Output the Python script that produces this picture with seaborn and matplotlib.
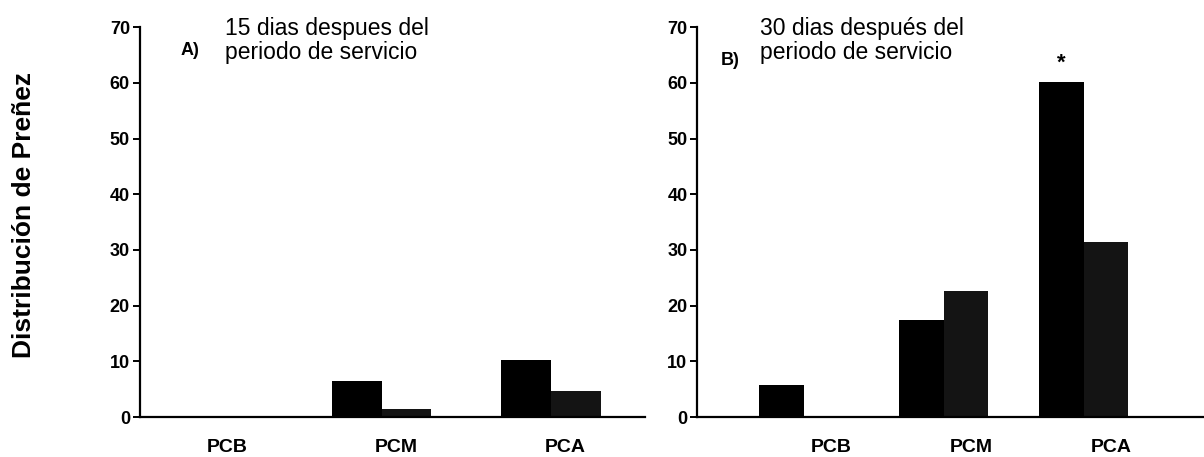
import pandas as pd
import matplotlib
matplotlib.use('Agg')
import matplotlib.pyplot as plt
import matplotlib.transforms as mtransforms
import seaborn as sns

# Valores (distribucion de preñez, %)
categorias = ['PCB', 'PCM', 'PCA']
series = ['s1', 's2']
a_serie1 = [0, 6.5, 10.3]
a_serie2 = [0, 1.4, 4.7]
b_serie1 = [5.8, 17.4, 60.2]
b_serie2 = [0, 22.6, 31.5]
yticks = [0, 10, 20, 30, 40, 50, 60, 70]

sns.set_style('white')
plt.rcParams['font.family'] = ['Liberation Sans', 'DejaVu Sans']
plt.rcParams['text.color'] = 'black'
plt.rcParams['xtick.color'] = 'black'
plt.rcParams['ytick.color'] = 'black'

def make_df(v1, v2):
    return pd.DataFrame({
        'grupo': categorias * 2,
        'serie': [series[0]] * 3 + [series[1]] * 3,
        'valor': list(v1) + list(v2),
    })

fig = plt.figure(figsize=(12.04, 4.57), dpi=100)
ax1 = fig.add_axes([0.116, 0.0875, 0.42, 0.853])
ax2 = fig.add_axes([0.579, 0.0875, 0.421, 0.853])

paleta = ['#000000', '#141414']

for ax, df, w, xl, dx in [(ax1, make_df(a_serie1, a_serie2), 0.59, (-0.43, 2.56), 15),
                          (ax2, make_df(b_serie1, b_serie2), 0.64, (-0.76, 2.86), 28)]:
    sns.barplot(data=df, x='grupo', y='valor', hue='serie', order=categorias,
                palette=paleta, saturation=1, width=w, gap=0, ax=ax,
                legend=False, edgecolor='none')
    ax.set_xlim(*xl)
    ax.set_ylim(0, 70)
    ax.set_yticks(yticks)
    ax.set_yticklabels([str(t) for t in yticks], fontsize=13, fontweight='heavy')
    ax.set_xlabel('')
    ax.set_ylabel('')
    for s in ['top', 'right']:
        ax.spines[s].set_visible(False)
    for s in ['left', 'bottom']:
        ax.spines[s].set_linewidth(1.6)
        ax.spines[s].set_color('black')
    ax.tick_params(axis='y', length=5, width=1.4, direction='out', left=True, pad=2)
    ax.tick_params(axis='x', length=0, pad=16)
    shift = mtransforms.ScaledTranslation(dx / 100, 0, fig.dpi_scale_trans)
    for lbl in ax.get_xticklabels():
        lbl.set_fontsize(14)
        lbl.set_fontweight('heavy')
        lbl.set_transform(lbl.get_transform() + shift)

ax1.text(0.10, 0.94, 'A)', transform=ax1.transAxes, fontsize=13, fontweight='heavy',
         ha='center', va='center')
ax1.text(0.168, 1.025, '15 dias despues del\nperiodo de servicio', transform=ax1.transAxes,
         fontsize=16.5, ha='left', va='top', linespacing=1.05)
ax2.text(0.065, 0.915, 'B)', transform=ax2.transAxes, fontsize=13, fontweight='heavy',
         ha='center', va='center')
ax2.text(0.124, 1.025, '30 dias después del\nperiodo de servicio', transform=ax2.transAxes,
         fontsize=16.5, ha='left', va='top', linespacing=1.05)

# asterisco sobre la barra PCA de la primera serie
barra = ax2.patches[2]
ax2.text(barra.get_x() + barra.get_width() / 2, barra.get_height() + 1.5, '*',
         ha='center', va='bottom', fontsize=16, fontweight='bold')

fig.text(0.02, 0.53, 'Distribución de Preñez', rotation=90, ha='center', va='center',
         fontsize=19, fontweight='bold')

fig.savefig('out.png', dpi=100)
